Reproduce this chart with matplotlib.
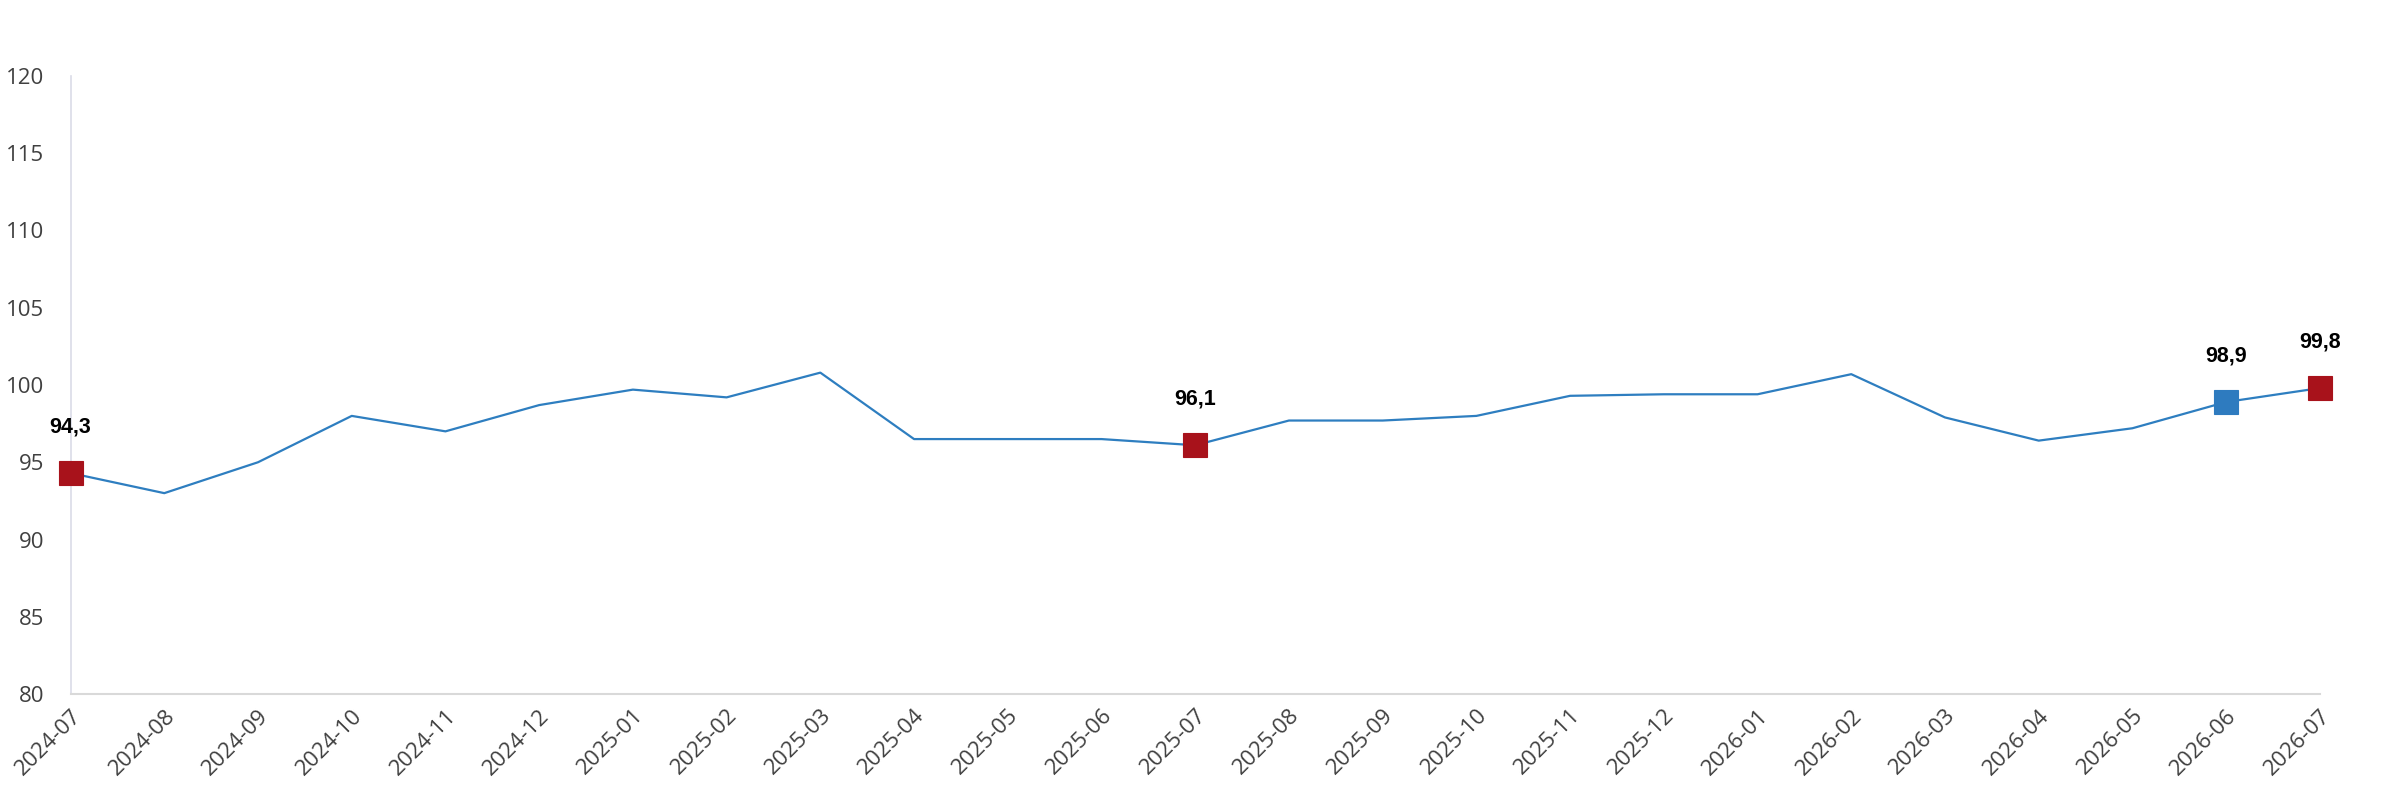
import matplotlib
matplotlib.use("Agg")
import matplotlib.pyplot as plt

# ─── data ──────────────────────────────────────────────
months = [
    "2024-07", "2024-08", "2024-09", "2024-10", "2024-11", "2024-12",
    "2025-01", "2025-02", "2025-03", "2025-04", "2025-05", "2025-06",
    "2025-07", "2025-08", "2025-09", "2025-10", "2025-11", "2025-12",
    "2026-01", "2026-02", "2026-03", "2026-04", "2026-05", "2026-06",
    "2026-07",
]
values = [
    94.3, 93.0, 95.0, 98.0, 97.0, 98.7,
    99.7, 99.2, 100.8, 96.5, 96.5, 96.5,
    96.1, 97.7, 97.7, 98.0, 99.3, 99.4,
    99.4, 100.7, 97.9, 96.4, 97.2, 98.9,
    99.8,
]
red_points  = ["2024-07", "2025-07", "2026-07"]
blue_points = ["2026-06"]
y_ticks = [80, 85, 90, 95, 100, 105, 110, 115, 120]

LINE_C = "#2E7EC0"
RED_C  = "#A8121B"
BLUE_C = "#2E7BBF"
# ───────────────────────────────────────────────────────

fig = plt.figure(figsize=(23.84, 8), dpi=100)
ax = fig.add_axes([0.0296, 0.1325, 0.9435, 0.7725])

x = list(range(len(months)))
ax.plot(x, values, color=LINE_C, lw=1.6, zorder=2, clip_on=False)

for name, col in [(m, RED_C) for m in red_points] + [(m, BLUE_C) for m in blue_points]:
    i = months.index(name)
    ax.plot(i, values[i], marker="s", ms=17.5, color=col, mec=col, mew=0.8,
            zorder=3, clip_on=False)
    ax.annotate(f"{values[i]:.1f}".replace(".", ","), (i, values[i]),
                xytext=(0, 33), textcoords="offset points",
                ha="center", va="center", fontsize=15.5, fontweight="bold",
                family=["Liberation Sans Narrow", "Liberation Sans", "DejaVu Sans"],
                color="black", zorder=4, annotation_clip=False)

ax.set_xlim(0, len(months) - 1)
ax.set_ylim(80, 120)
ax.set_yticks(y_ticks)
ax.set_xticks(x)
ax.set_xticklabels(months, rotation=45, ha="right", rotation_mode="anchor")

for lab in ax.get_xticklabels() + ax.get_yticklabels():
    lab.set_family(["Open Sans", "DejaVu Sans"])
    lab.set_fontsize(16)
    lab.set_color("#404040")

ax.tick_params(axis="y", length=0, pad=19)
ax.tick_params(axis="x", length=0, pad=8)

ax.spines["top"].set_visible(False)
ax.spines["right"].set_visible(False)
ax.spines["left"].set_color("#DADCE8")
ax.spines["left"].set_linewidth(1.2)
ax.spines["bottom"].set_color("#D9D9D9")
ax.spines["bottom"].set_linewidth(1.5)

fig.savefig("out.png", dpi=100)
